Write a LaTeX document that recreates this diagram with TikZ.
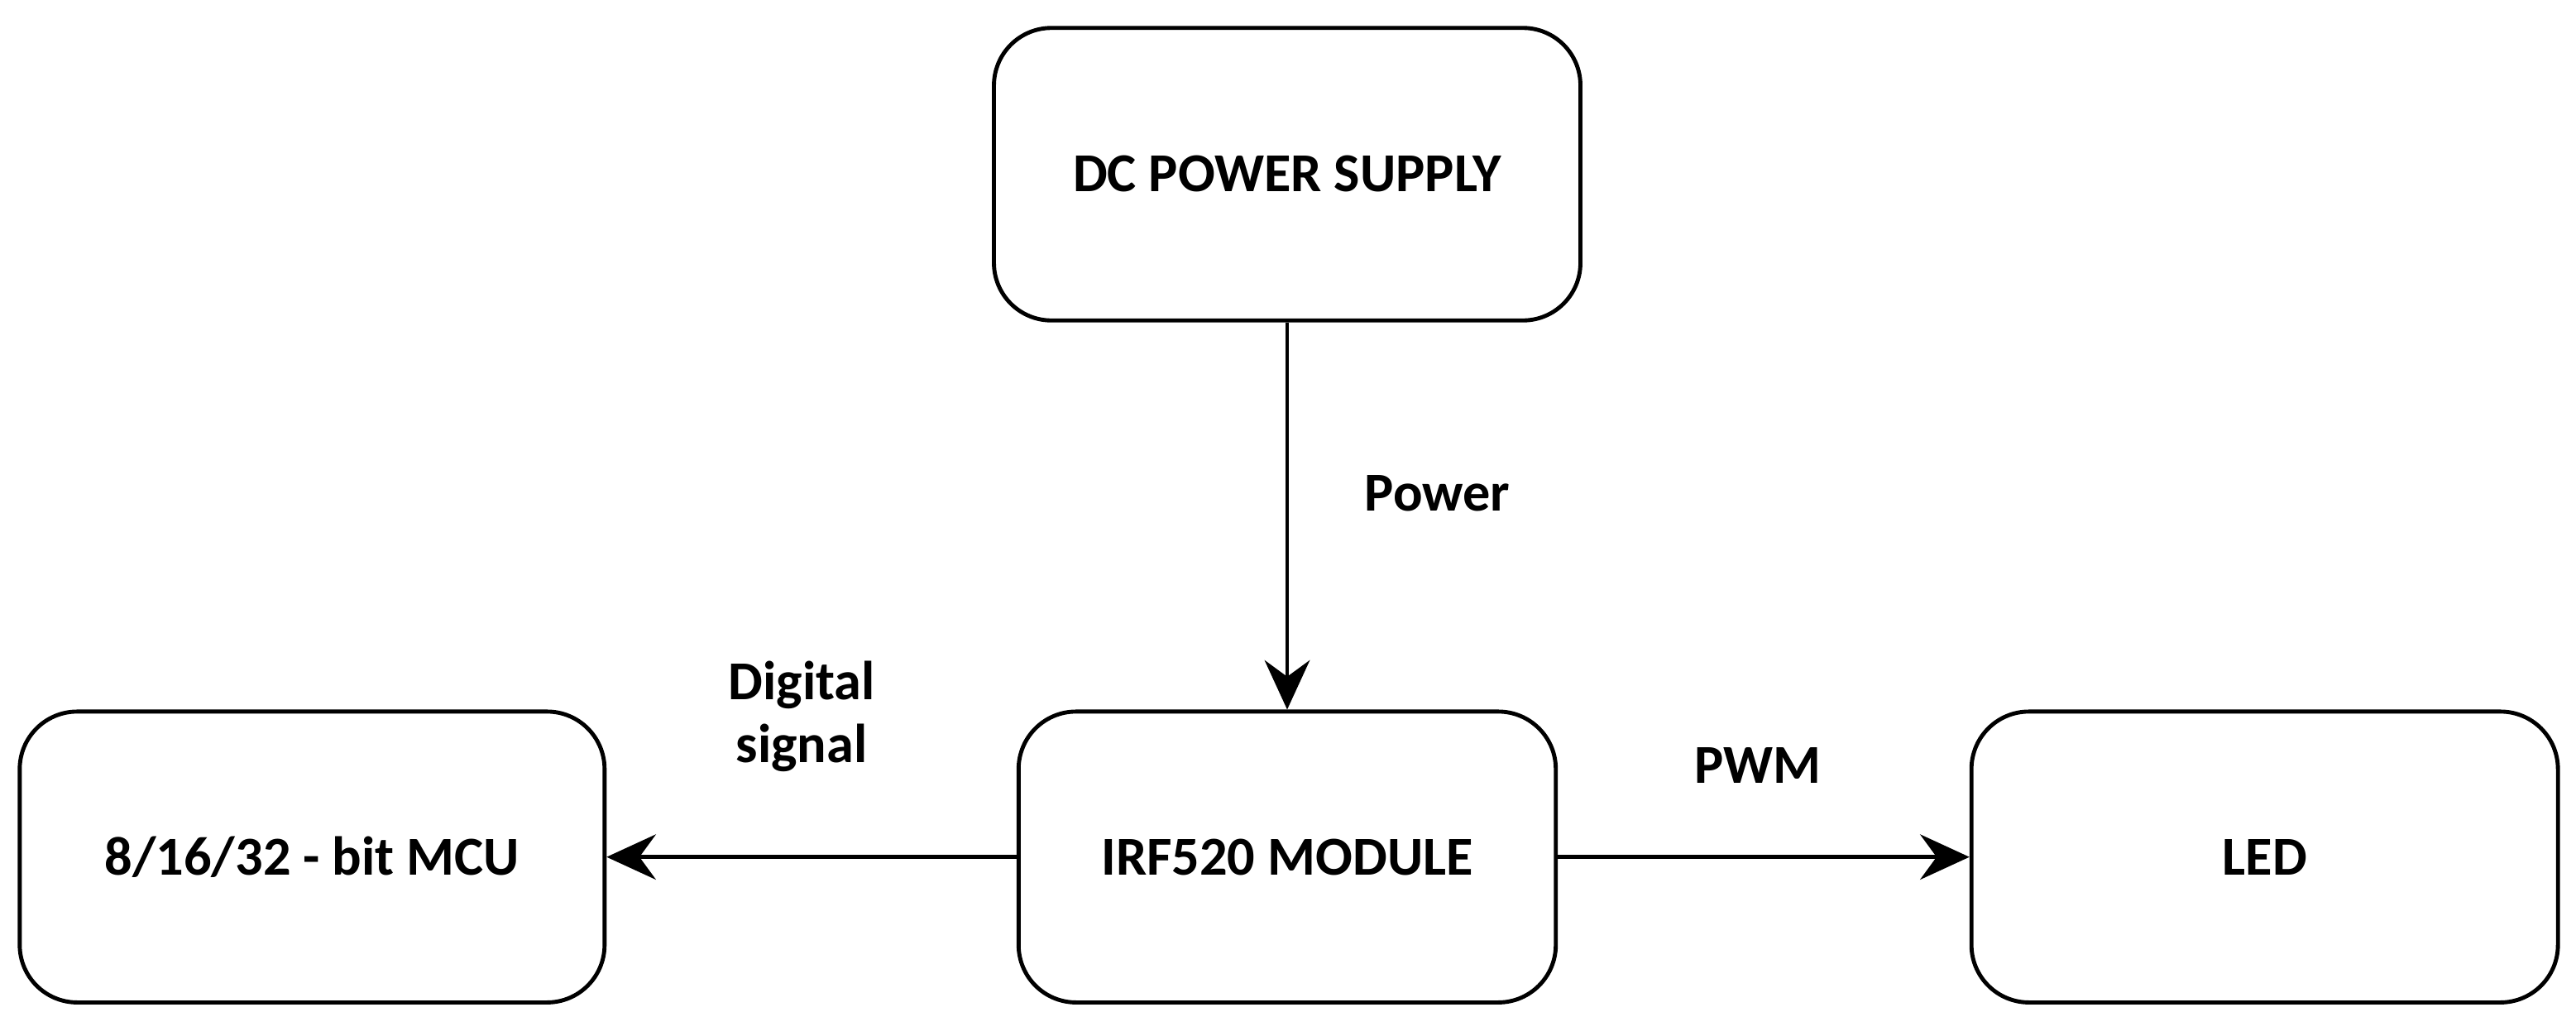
\documentclass[tikz,border=0pt]{standalone}
\usepackage{fontspec}
\setmainfont{Carlito}
\usetikzlibrary{arrows.meta}
\begin{document}
\begin{tikzpicture}[x=0.02cm,y=-0.02cm,
    box/.style={draw,line width=1.4pt,rounded corners=0.7cm,inner sep=0pt},
    lbl/.style={font=\fontsize{19}{22}\selectfont\bfseries},
    conn/.style={line width=1.4pt,-{Stealth[length=0.6cm,width=0.55cm,inset=0.2cm]}}]
  \useasboundingbox (0,0) rectangle (1568,630.4);
  \node[box,minimum width=357*0.02cm,minimum height=178*0.02cm,lbl] (dc) at (783.5,106) {DC POWER SUPPLY};
  \node[box,minimum width=356*0.02cm,minimum height=177*0.02cm,lbl] (mcu) at (190,521.5) {8/16/32 - bit MCU};
  \node[box,minimum width=327*0.02cm,minimum height=177*0.02cm,lbl] (irf) at (783.5,521.5) {IRF520 MODULE};
  \node[box,minimum width=357*0.02cm,minimum height=177*0.02cm,lbl] (led) at (1378.5,521.5) {LED};
  \draw[conn] (dc.south) -- (irf.north);
  \draw[conn] (irf.west) -- (mcu.east);
  \draw[conn] (irf.east) -- (led.west);
  \node[lbl] (pw) at (875,300) {Power};
  \node[lbl,align=center] (ds) at (488,436) {Digital\\signal};
  \node[lbl] (pwm) at (1070,466) {PWM};
\end{tikzpicture}
\end{document}
